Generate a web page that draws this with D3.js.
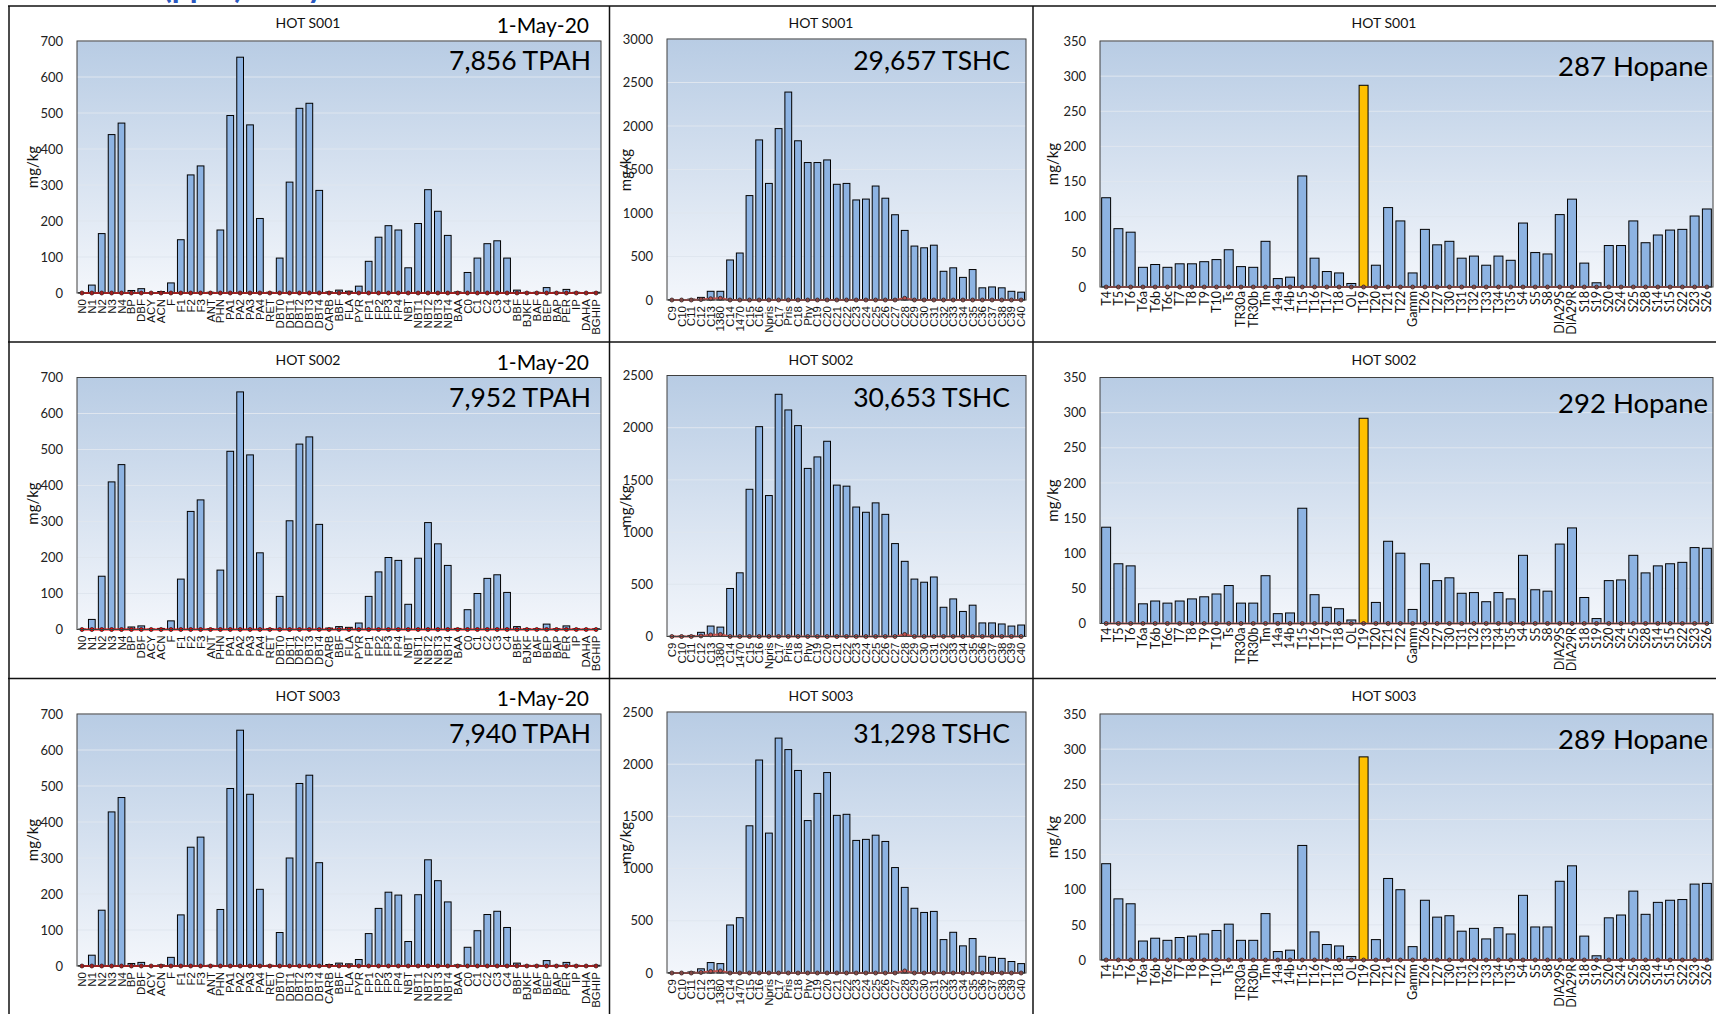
<!DOCTYPE html>
<html><head><meta charset="utf-8">
<script src="https://cdn.jsdelivr.net/npm/d3@7"></script>
<style>body{margin:0;background:#fff;overflow:hidden} svg{display:block;}</style>
</head><body><svg id="c" width="1716" height="1014"></svg>
<script>
// ---------- DATA ----------
const samples = ["HOT S001", "HOT S002", "HOT S003"];
const dateLabel = "1-May-20";

const pahCats = ["N0","N1","N2","N3","N4","BP","DBF","ACY","ACN","F","F1","F2","F3","ANT","PHN","PA1","PA2","PA3","PA4","RET","DBT0","DBT1","DBT2","DBT3","DBT4","CARB","BBF","FLA","PYR","FP1","FP2","FP3","FP4","NBT","NBT1","NBT2","NBT3","NBT4","BAA","C0","C1","C2","C3","C4","BBF","BJKF","BAF","BEP","BAP","PER","IP","DAHA","BGHIP"];
const pahS001 = [1,22,165,440,472,7,12,1,4,28,148,328,353,2,175,493,655,467,207,2,97,308,513,527,285,3,8,5,19,88,155,187,175,70,193,287,227,160,3,57,97,137,145,97,8,2,2,15,2,10,2,1,2];
const pahS002 = [1,28,148,410,458,7,10,1,3,24,140,328,360,2,165,495,660,485,213,2,92,302,515,535,292,4,8,6,18,92,160,200,192,70,198,297,238,178,3,55,100,142,152,103,8,2,2,15,2,10,2,1,2];
const pahS003 = [1,30,155,428,468,7,10,1,3,24,142,330,358,2,157,493,655,477,213,2,93,300,507,530,287,4,8,6,18,90,160,205,197,68,198,295,237,178,3,52,98,143,152,107,8,2,2,15,2,10,2,1,2];
const pahBlank = [0,0,0,0,0,0,0,0,0,0,0,0,0,0,0,0,0,0,0,0,0,0,0,0,0,0,0,0,0,0,0,0,0,0,0,0,0,0,0,0,0,0,0,0,0,0,0,0,0,0,0,0,0];
const pahTotals = ["7,856", "7,952", "7,940"];
const pahTicks = [0,100,200,300,400,500,600,700];

const tshcCats = ["C9","C10","C11","C12","C13","1380","C14","1470","C15","C16","Npris","C17","Pris","C18","Phy","C19","C20","C21","C22","C23","C24","C25","C26","C27","C28","C29","C30","C31","C32","C33","C34","C35","C36","C37","C38","C39","C40"];
const tshcS001 = [2,3,10,30,100,100,460,540,1200,1840,1340,1970,2390,1830,1580,1580,1610,1330,1340,1150,1160,1310,1170,980,800,620,600,630,330,370,260,350,140,150,140,100,90];
const tshcS002 = [2,3,10,40,100,90,460,610,1410,2010,1350,2320,2170,2020,1610,1720,1870,1450,1440,1240,1190,1280,1170,890,720,550,520,570,280,360,240,300,130,130,120,100,110];
const tshcS003 = [2,3,10,40,100,90,460,530,1410,2040,1340,2250,2140,1940,1460,1720,1920,1510,1520,1270,1280,1320,1260,1010,820,620,580,590,320,390,260,330,160,150,140,110,90];
const tshcBlank = [0,0,0,5,15,20,0,0,0,0,0,0,0,0,0,0,0,0,0,0,0,0,0,0,20,0,0,0,0,0,0,0,0,0,0,0,0];
const tshcTotals = ["29,657", "30,653", "31,298"];
const tshcTicksS001 = [0,500,1000,1500,2000,2500,3000];
const tshcTicksOther = [0,500,1000,1500,2000,2500];

const hopCats = ["T4","T5","T6","T6a","T6b","T6c","T7","T8","T9","T10","Ts","TR30a","TR30b","Tm","14a","14b","T15","T16","T17","T18","OL","T19","T20","T21","T22","Gamm","T26","T27","T30","T31","T32","T33","T34","T35","S4","S5","S8","DIA29S","DIA29R","S18","S19","S20","S24","S25","S28","S14","S15","S22","S23","S26"];
const hopS001 = [127,83,78,28,32,28,33,33,36,39,53,29,28,65,12,14,158,41,22,20,5,287,31,113,94,20,82,60,65,41,44,31,44,38,91,49,47,103,125,34,6,59,59,94,63,74,81,82,101,111];
const hopS002 = [137,85,82,28,32,29,32,35,38,42,54,29,29,68,14,15,164,41,23,21,5,292,30,117,100,20,85,61,65,43,44,31,44,35,97,48,46,113,136,37,7,61,62,97,72,82,85,87,108,107];
const hopS003 = [137,87,80,27,31,28,32,34,37,42,51,28,28,66,12,14,163,40,22,20,5,289,29,116,100,19,85,61,63,41,45,30,46,37,92,47,47,112,134,34,6,60,64,98,65,82,85,86,108,109];
const hopBlank = [0,0,0,0,0,0,0,0,0,0,0,0,0,0,0,0,0,0,0,0,0,0,0,0,0,0,0,0,0,0,0,0,0,0,0,0,0,0,0,0,0,0,0,0,0,0,0,0,0,0];
const hopHighlight = "T19";
const hopTotals = ["287", "292", "289"];
const hopTicks = [0,50,100,150,200,250,300,350];

// ---------- DRAWING ----------
const svg = d3.select("#c");
const defs = svg.append("defs");
const grad = defs.append("linearGradient").attr("id","bg")
  .attr("x1",0).attr("y1",0).attr("x2",0).attr("y2",1);
grad.append("stop").attr("offset","0%").attr("stop-color","#b8cce4");
grad.append("stop").attr("offset","100%").attr("stop-color","#f3f6fb");

const FONT = "Lato, 'Open Sans', sans-serif";

function drawChart(g, cfg) {
  const x = d3.scaleBand().domain(d3.range(cfg.cats.length))
    .range([cfg.left, cfg.right]).paddingInner(cfg.pad).paddingOuter(cfg.pad / 2);
  const y = d3.scaleLinear().domain([0, cfg.max]).range([cfg.bottom, cfg.top]);

  g.append("rect").attr("x", cfg.left).attr("y", cfg.top)
    .attr("width", cfg.right - cfg.left).attr("height", cfg.bottom - cfg.top)
    .attr("fill", "url(#bg)");

  g.append("g").selectAll("line").data(cfg.ticks.filter(t => t > 0)).join("line")
    .attr("x1", cfg.left).attr("x2", cfg.right)
    .attr("y1", d => y(d)).attr("y2", d => y(d))
    .attr("stroke", "#dfe6ef").attr("stroke-width", 1);

  const ya = d3.axisLeft(y).tickValues(cfg.ticks).tickFormat(d3.format("d")).tickSize(0).tickPadding(0);
  const yg = g.append("g").attr("transform", `translate(${cfg.labelRight},0)`).call(ya);
  yg.select(".domain").remove();
  yg.selectAll("text").attr("font-family", FONT).attr("font-size", 13).attr("fill", "#222");

  g.append("g").selectAll("rect").data(cfg.values).join("rect")
    .attr("x", (d, i) => x(i)).attr("width", x.bandwidth())
    .attr("y", d => y(d)).attr("height", d => y(0) - y(d))
    .attr("fill", (d, i) => cfg.highlight && cfg.cats[i] === cfg.highlight ? "#ffc000" : "#8db3e2")
    .attr("stroke", "#000").attr("stroke-width", 1);

  const line = d3.line().x((d, i) => x(i) + x.bandwidth() / 2).y(d => y(d));
  g.append("path").datum(cfg.blank).attr("d", line)
    .attr("fill", "none").attr("stroke", cfg.lineColor).attr("stroke-width", 2);
  g.append("g").selectAll("circle").data(cfg.blank).join("circle")
    .attr("cx", (d, i) => x(i) + x.bandwidth() / 2).attr("cy", d => y(d)).attr("r", 2)
    .attr("fill", cfg.lineColor).attr("stroke", "#222").attr("stroke-width", 0.8);

  g.append("rect").attr("x", cfg.left).attr("y", cfg.top)
    .attr("width", cfg.right - cfg.left).attr("height", cfg.bottom - cfg.top)
    .attr("fill", "none").attr("stroke", "#404040").attr("stroke-width", 1);

  const xa = d3.axisBottom(x).tickSize(0).tickFormat(i => cfg.cats[i]);
  const xg = g.append("g").attr("transform", `translate(0,${cfg.bottom})`).call(xa);
  xg.select(".domain").remove();
  xg.selectAll("text")
    .attr("transform", "rotate(-90)")
    .attr("x", -cfg.xGap).attr("y", 0).attr("dy", "0.35em")
    .style("text-anchor", "end")
    .attr("font-family", cfg.xFont).attr("font-size", cfg.xSize).attr("fill", "#111");

  g.append("text").attr("transform", `translate(${cfg.unitX},${cfg.unitY}) rotate(-90)`)
    .attr("text-anchor", "middle").attr("dy", "0.35em")
    .attr("font-family", FONT).attr("font-size", 15).attr("fill", "#111").text("mg/kg");

  g.append("text").attr("x", cfg.titleX).attr("y", 28).attr("text-anchor", "middle")
    .attr("font-family", FONT).attr("font-size", 14).attr("fill", "#111").text(cfg.title);

  g.append("text").attr("x", cfg.bigRight).attr("y", cfg.bigY).attr("text-anchor", "end")
    .attr("font-family", FONT).attr("font-size", cfg.bigSize).attr("fill", "#000").text(cfg.big);

  if (cfg.date) {
    g.append("text").attr("x", 589).attr("y", 33).attr("text-anchor", "end")
      .attr("font-family", FONT).attr("font-size", 21).attr("fill", "#000").text(cfg.date);
  }
}

const rowDy = [0, 336.5, 673];
const pahData = [pahS001, pahS002, pahS003];
const tshcData = [tshcS001, tshcS002, tshcS003];
const hopData = [hopS001, hopS002, hopS003];

samples.forEach((s, r) => {
  const g = svg.append("g").attr("transform", `translate(0,${rowDy[r]})`);
  drawChart(g.append("g"), {
    cats: pahCats, values: pahData[r], blank: pahBlank, max: 700, ticks: pahTicks,
    left: 77, right: 601, top: 41, bottom: 293, pad: 0.32, labelRight: 63,
    lineColor: "#ff0000", xGap: 6, xFont: "'Liberation Sans', Arial, sans-serif", xSize: 11.5,
    unitX: 33, unitY: 167, titleX: 308, title: s,
    big: pahTotals[r] + " TPAH", bigRight: 591, bigY: 70, bigSize: 26.5, date: dateLabel
  });
  drawChart(g.append("g"), {
    cats: tshcCats, values: tshcData[r], blank: tshcBlank, max: r === 0 ? 3000 : 2500,
    ticks: r === 0 ? tshcTicksS001 : tshcTicksOther,
    left: 667, right: 1026, top: 39, bottom: 300, pad: 0.3, labelRight: 653,
    lineColor: "#c0504d", xGap: 6, xFont: "'Liberation Sans', Arial, sans-serif", xSize: 11.5,
    unitX: 626, unitY: 170, titleX: 821, title: s,
    big: tshcTotals[r] + " TSHC", bigRight: 1010, bigY: 70, bigSize: 26.5
  });
  drawChart(g.append("g"), {
    cats: hopCats, values: hopData[r], blank: hopBlank, max: 350, ticks: hopTicks,
    highlight: hopHighlight,
    left: 1100, right: 1713, top: 41, bottom: 287, pad: 0.27, labelRight: 1086,
    lineColor: "#c0504d", xGap: 4, xFont: FONT, xSize: 12.5,
    unitX: 1053, unitY: 164, titleX: 1384, title: s,
    big: hopTotals[r] + " Hopane", bigRight: 1708, bigY: 76, bigSize: 27.5
  });
});

// panel frame lines
const frame = svg.append("g").attr("stroke", "#111").attr("stroke-width", 1.5);
[[8, 6, 1716, 6], [8, 342, 1716, 342], [8, 678.5, 1716, 678.5],
 [9, 6, 9, 1014], [609.5, 6, 609.5, 1014], [1033, 6, 1033, 1014]].forEach(l => {
  frame.append("line").attr("x1", l[0]).attr("y1", l[1]).attr("x2", l[2]).attr("y2", l[3]);
});

// page title, cut off at the top edge as in the reference (only its lowest part shows)
const tt = svg.append("text").attr("y", -2).attr("font-family", FONT).attr("font-weight", "bold")
  .attr("font-size", 32).attr("fill", "#2a58c0");
tt.append("tspan").attr("x", 163).text("(ppm) Daily");
</script>
</body></html>
